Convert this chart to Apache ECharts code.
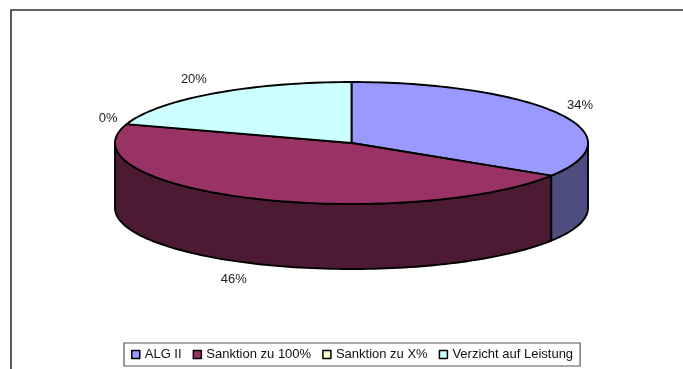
<!DOCTYPE html>
<html>
<head>
<meta charset="utf-8">
<script src="https://cdn.jsdelivr.net/npm/echarts@6/dist/echarts.min.js"></script>
<style>
  html, body { margin: 0; padding: 0; background: #fff; }
  #chart { width: 683px; height: 369px; }
</style>
</head>
<body>
<div id="chart"></div>
<script>
// Shares of outcomes, in percent
const categories = ['ALG II', 'Sanktion zu 100%', 'Sanktion zu X%', 'Verzicht auf Leistung'];
const shares = [34, 46, 0, 20];
const topColors = ['#9999FF', '#993366', '#FFFFCC', '#CCFFFF'];
const sideColors = ['#4D4D80', '#4D1A33', '#80806A', '#668080'];

// Geometry of the tilted pie
const CX = 351.5, CY = 143, RX = 236.5, RY = 61, DEPTH = 65;
const LABEL_RX = RX + 9.5, LABEL_RY = RY + 18;
const FONT = '"Liberation Sans", Arial, sans-serif';

const total = shares.reduce((s, v) => s + v, 0);
const startAngles = [];
shares.reduce((acc, v) => { startAngles.push(acc); return acc + v / total * 360; }, 0);

function ellipsePt(deg, dy) {
  const t = deg * Math.PI / 180;
  return [CX + RX * Math.sin(t), CY - RY * Math.cos(t) + (dy || 0)];
}
function arcPts(a, b, dy) {
  const pts = [];
  const n = Math.max(1, Math.ceil(Math.abs(b - a) / 1.5));
  for (let i = 0; i <= n; i++) pts.push(ellipsePt(a + (b - a) * i / n, dy));
  return pts;
}

function renderSlice(params, api) {
  const i = params.dataIndex;
  const v = api.value(0);
  const a = startAngles[i];
  const b = a + v / total * 360;
  const children = [];
  const stroke = { stroke: '#000', lineWidth: 1.9, lineJoin: 'round' };

  if (b > a) {
    // visible front wall
    const s = Math.max(a, 90), e = Math.min(b, 270);
    if (e > s) {
      children.push({
        type: 'polygon', z2: 1,
        shape: { points: arcPts(s, e, 0).concat(arcPts(e, s, DEPTH)) },
        style: Object.assign({ fill: sideColors[i] }, stroke)
      });
    }
    // top face
    children.push({
      type: 'polygon', z2: 2,
      shape: { points: [[CX, CY]].concat(arcPts(a, b, 0)) },
      style: Object.assign({ fill: topColors[i] }, stroke)
    });
  }

  // percentage label
  const mid = (a + b) / 2 * Math.PI / 180;
  const sx = Math.sin(mid), cy = Math.cos(mid);
  children.push({
    type: 'text', z2: 3,
    style: {
      text: Math.round(v / total * 100) + '%',
      x: CX + LABEL_RX * sx,
      y: CY - LABEL_RY * cy + (cy < 0 ? DEPTH : 0),
      align: sx >= 0 ? 'left' : 'right',
      verticalAlign: 'middle',
      fill: '#222',
      font: '13px ' + FONT
    }
  });
  return { type: 'group', children: children };
}

const chart = echarts.init(document.getElementById('chart'), null, { renderer: 'canvas' });
chart.setOption({
  animation: false,
  backgroundColor: '#fff',
  graphic: [{
    type: 'rect', silent: true,
    shape: { x: 11, y: 10, width: 720, height: 420 },
    style: { fill: 'none', stroke: '#333', lineWidth: 1.6 }
  }],
  legend: {
    data: categories,
    selectedMode: false,
    left: 124, top: 343,
    padding: [5, 7],
    itemGap: 11,
    itemWidth: 8, itemHeight: 8,
    icon: 'rect',
    itemStyle: { borderColor: '#000', borderWidth: 1.5 },
    borderColor: '#555', borderWidth: 1.2,
    textStyle: { fontSize: 13, fontFamily: FONT, color: '#111' }
  },
  series: [
    {
      // legend entries with the slice colours
      type: 'pie', radius: [0, 0], silent: true,
      label: { show: false }, labelLine: { show: false },
      data: categories.map((n, i) => ({ name: n, value: shares[i], itemStyle: { color: topColors[i] } }))
    },
    {
      type: 'custom', name: 'Anteile', coordinateSystem: 'none', silent: true,
      renderItem: renderSlice,
      data: shares.map(v => [v])
    }
  ]
});
</script>
</body>
</html>
